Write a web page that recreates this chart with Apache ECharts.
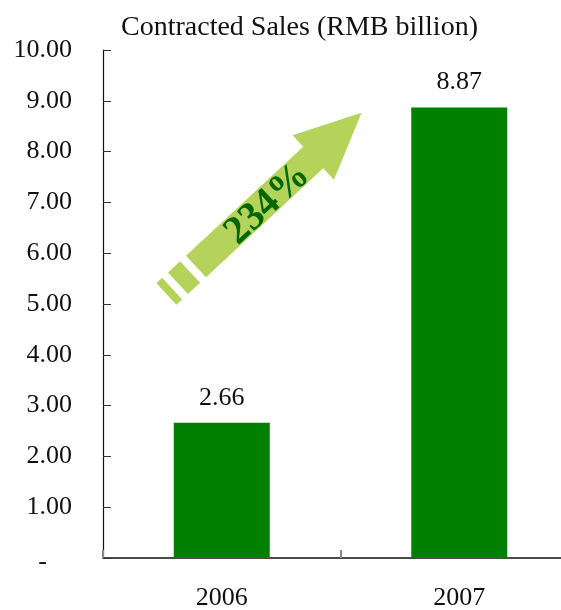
<!DOCTYPE html>
<html><head><meta charset="utf-8">
<script src="https://cdn.jsdelivr.net/npm/echarts@6/dist/echarts.min.js"></script>
<style>html,body{margin:0;padding:0;background:#fff}#c{width:561px;height:610px}</style>
</head><body><div id="c"></div>
<script>
// ---- data ----
const categories = ['2006', '2007'];
const sales = [2.66, 8.87];
const titleText = 'Contracted Sales (RMB billion)';
const growthLabel = '234%';

// ---- arrow annotation geometry (decoration, not data) ----
const FONT = '"Liberation Serif", "Times New Roman", serif';
const ang = 42.9 * Math.PI / 180;
const base = [196, 266.5];
const u = [Math.cos(ang), -Math.sin(ang)];
const n = [Math.sin(ang), Math.cos(ang)];
function P(s, t) { return [base[0] + s * u[0] + t * n[0], base[1] + s * u[1] + t * n[1]]; }
const hw = 14.7, hh = 30.4;
const arrowMain = [P(0, -hw), P(160, -hw), P(160, -hh), P(226, 0), P(160, hh), P(160, hw), P(0, hw)];
const seg2 = [P(-24.6, -hw), P(-8, -hw), P(-8, hw), P(-24.6, hw)];
const seg3 = [P(-40.4, -hw), P(-32.5, -hw), P(-32.5, hw), P(-40.4, hw)];
const arrowColor = '#B5D35B';
const textPos = P(95, 3);

const chart = echarts.init(document.getElementById('c'), null, { renderer: 'canvas' });
chart.setOption({
  animation: false,
  backgroundColor: '#fff',
  title: {
    text: titleText,
    left: 116, top: 9,
    textStyle: { fontFamily: FONT, fontSize: 28, fontWeight: 'normal', color: '#111' }
  },
  grid: { left: 103, right: -17, top: 50, bottom: 52, containLabel: false, outerBoundsMode: 'none' },
  xAxis: {
    type: 'category',
    data: categories,
    axisLine: { show: true, lineStyle: { color: '#111', width: 1.5 } },
    axisTick: { show: true, inside: true, length: 8, lineStyle: { color: '#888', width: 2 } },
    axisLabel: { margin: 27, fontFamily: FONT, fontSize: 26, color: '#111' },
    splitLine: { show: false }
  },
  yAxis: {
    type: 'value',
    min: 0, max: 10, interval: 1,
    axisLine: { show: true, lineStyle: { color: '#111', width: 1.2 } },
    axisTick: { show: true, inside: true, length: 8, lineStyle: { color: '#333', width: 1 } },
    splitLine: { show: false },
    axisLabel: {
      margin: 31, fontFamily: FONT, fontSize: 26, color: '#111',
      formatter: v => v === 0 ? '{d|-}' : v.toFixed(2),
      rich: { d: { fontFamily: FONT, fontSize: 26, color: '#111', padding: [8, 25, 0, 0] } }
    }
  },
  series: [{
    type: 'bar',
    data: sales,
    barWidth: 96,
    itemStyle: { color: '#008000' },
    label: {
      show: true, position: 'top', distance: 12,
      fontFamily: FONT, fontSize: 26, color: '#111',
      formatter: p => p.value.toFixed(2)
    }
  }],
  graphic: [
    { type: 'polygon', shape: { points: arrowMain }, style: { fill: arrowColor }, z: 10 },
    { type: 'polygon', shape: { points: seg2 }, style: { fill: arrowColor }, z: 10 },
    { type: 'polygon', shape: { points: seg3 }, style: { fill: arrowColor }, z: 10 },
    {
      type: 'text', x: textPos[0], y: textPos[1], rotation: ang, z: 11,
      style: { text: growthLabel, font: 'bold 40px ' + FONT, fill: '#006600', align: 'center', verticalAlign: 'middle' }
    }
  ]
});
</script>
</body></html>
